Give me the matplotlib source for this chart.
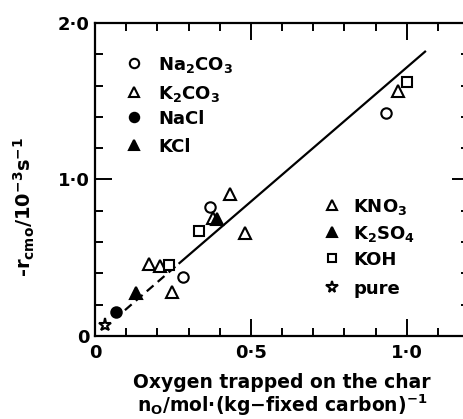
import matplotlib
matplotlib.use("Agg")
import matplotlib.pyplot as plt
from matplotlib.ticker import MultipleLocator, FixedLocator
from matplotlib.transforms import offset_copy

# data
na2co3_x = [0.283, 0.369, 0.934]
na2co3_y = [0.379, 0.826, 1.423]
k2co3_x = [0.173, 0.209, 0.247, 0.971]
k2co3_y = [0.457, 0.447, 0.281, 1.567]
nacl_x = [0.066]
nacl_y = [0.151]
kcl_x = [0.133]
kcl_y = [0.273]
kno3_x = [0.433, 0.481, 0.378]
kno3_y = [0.907, 0.658, 0.757]
k2so4_x = [0.39]
k2so4_y = [0.75]
koh_x = [0.239, 0.334, 1.0]
koh_y = [0.452, 0.671, 1.623]
pure_x = [0.032]
pure_y = [0.07]

fit_dash_x = [0.096, 0.271]
fit_dash_y = [0.165, 0.466]
fit_solid_x = [0.271, 1.059]
fit_solid_y = [0.466, 1.817]

x_ticks = [0, 0.5, 1.0]
x_ticklabels = ["0", "0·5", "1·0"]
y_ticks = [0, 1.0, 2.0]
y_ticklabels = ["0", "1·0", "2·0"]

plt.rcParams["font.family"] = "DejaVu Sans"
plt.rcParams["font.weight"] = "bold"
plt.rcParams["axes.labelweight"] = "bold"
plt.rcParams["mathtext.default"] = "regular"
FS = 13

fig = plt.figure(figsize=(4.64, 4.19), dpi=100)
ax = fig.add_axes([95 / 464, 83 / 419, 374 / 464, 313 / 419])

series = [
    (na2co3_x, na2co3_y, "o", "white", "Na$_2$CO$_3$"),
    (k2co3_x, k2co3_y, "^", "white", "K$_2$CO$_3$"),
    (nacl_x, nacl_y, "o", "black", "NaCl"),
    (kcl_x, kcl_y, "^", "black", "KCl"),
    (kno3_x, kno3_y, "^", "white", "KNO$_3$"),
    (k2so4_x, k2so4_y, "^", "black", "K$_2$SO$_4$"),
    (koh_x, koh_y, "s", "white", "KOH"),
    (pure_x, pure_y, "*", "white", "pure"),
]
sizes = {"o": 7.5, "^": 8.5, "s": 7, "*": 9.5}

ax.plot(fit_dash_x, fit_dash_y, color="black", lw=1.6, linestyle=(0, (4, 2.5)))
ax.plot(fit_solid_x, fit_solid_y, color="black", lw=1.6)

for xs, ys, m, fc, lab in series:
    ax.plot(xs, ys, linestyle="none", marker=m, ms=sizes[m], mfc=fc,
            mec="black", mew=1.5, clip_on=False, zorder=3)

# legend entries, two columns of four
leg_rows = [1.744, 1.559, 1.399, 1.220, 0.837, 0.665, 0.498, 0.313]
leg_mx = [0.125] * 4 + [0.761] * 4
leg_tx = [0.202] * 4 + [0.828] * 4
txt_tr = offset_copy(ax.transData, fig=fig, y=-4.8, units="points")
for (xs, ys, m, fc, lab), ly, mx, tx in zip(series, leg_rows, leg_mx, leg_tx):
    s = sizes[m] * 0.9
    ax.plot([mx], [ly], linestyle="none", marker=m, ms=s, mfc=fc,
            mec="black", mew=1.5)
    ax.text(tx, ly, lab, fontsize=FS, va="baseline", ha="left", transform=txt_tr)

ax.set_xlim(0, 1.2)
ax.set_ylim(0, 2.0)
ax.xaxis.set_major_locator(FixedLocator(x_ticks))
ax.set_xticklabels(x_ticklabels)
ax.yaxis.set_major_locator(FixedLocator(y_ticks))
ax.set_yticklabels(y_ticklabels)
ax.xaxis.set_minor_locator(MultipleLocator(0.1))
ax.yaxis.set_minor_locator(MultipleLocator(0.2))
ax.tick_params(which="both", direction="in", top=True, right=True, width=1.4,
               labelsize=FS, colors="black")
ax.tick_params(which="major", length=12)
ax.tick_params(which="minor", length=6)
ax.tick_params(axis="x", which="major", pad=6)
ax.tick_params(axis="y", which="major", pad=4)
for sp in ax.spines.values():
    sp.set_linewidth(1.6)
ax.spines["right"].set_visible(False)

ax.set_ylabel("-r$_{cmo}$/10$^{-3}$s$^{-1}$", fontsize=FS + 1, fontweight="bold")
ax.yaxis.set_label_coords(-0.155, 0.412)
ax.set_xlabel("Oxygen trapped on the char\nn$_O$/mol·(kg−fixed carbon)$^{-1}$",
              fontsize=FS + 0.5, linespacing=1.05, fontweight="bold")
ax.xaxis.set_label_coords(0.5, -0.118)
ax.xaxis.label.set_va("top")

fig.savefig("out.png", dpi=100)
